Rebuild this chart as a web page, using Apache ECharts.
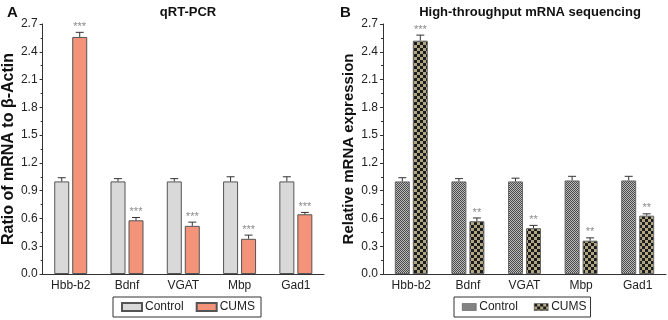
<!DOCTYPE html>
<html>
<head>
<meta charset="utf-8">
<script src="https://cdn.jsdelivr.net/npm/echarts@6/dist/echarts.min.js"></script>
<style>
  html, body { margin: 0; padding: 0; background: #fff; }
  #chart { width: 668px; height: 320px; }
</style>
</head>
<body>
<div id="chart"></div>
<script>
const categories = ['Hbb-b2', 'Bdnf', 'VGAT', 'Mbp', 'Gad1'];
const yTicks = [0, 0.3, 0.6, 0.9, 1.2, 1.5, 1.8, 2.1, 2.4, 2.7];

// qRT-PCR (panel A)
const qpcrControl = [1.00, 1.00, 1.00, 1.00, 1.00];
const qpcrControlErr = [0.04, 0.03, 0.03, 0.05, 0.05];
const qpcrCums = [2.56, 0.58, 0.52, 0.38, 0.645];
const qpcrCumsErr = [0.05, 0.03, 0.04, 0.04, 0.02];
const qpcrSig = ['***', '***', '***', '***', '***'];

// mRNA sequencing (panel B)
const seqControl = [1.00, 1.00, 1.00, 1.01, 1.01];
const seqControlErr = [0.04, 0.03, 0.035, 0.045, 0.045];
const seqCums = [2.52, 0.57, 0.495, 0.36, 0.63];
const seqCumsErr = [0.06, 0.035, 0.03, 0.03, 0.02];
const seqSig = ['***', '**', '**', '**', '**'];

const BAR_W = 15;
const BAR_GAP = 3;

function checker(size, a, b) {
  const c = document.createElement('canvas');
  c.width = size * 2;
  c.height = size * 2;
  const ctx = c.getContext('2d');
  ctx.fillStyle = a;
  ctx.fillRect(0, 0, size * 2, size * 2);
  ctx.fillStyle = b;
  ctx.fillRect(0, 0, size, size);
  ctx.fillRect(size, size, size, size);
  return { image: c, repeat: 'repeat' };
}

const controlPattern = checker(1, '#bdbdbd', '#474747');
const cumsPattern = checker(3, '#b2a785', '#1c1c1c');

// error bar items: [category, value, err, side, label]
function errItems(vals, errs, side, sig) {
  return vals.map((v, i) => [i, v, errs[i], side, sig ? sig[i] : '']);
}

function renderErr(params, api) {
  const cat = api.value(0);
  const v = api.value(1);
  const e = api.value(2);
  const side = api.value(3);
  const label = api.value(4);
  const cx = api.coord([cat, 0])[0] + side * (BAR_W + BAR_GAP) / 2;
  const yTop = api.coord([cat, v])[1];
  const yCap = api.coord([cat, v + e])[1];
  const children = [
    { type: 'line', shape: { x1: cx, y1: yTop, x2: cx, y2: yCap }, style: { stroke: '#333', lineWidth: 1 } },
    { type: 'line', shape: { x1: cx - 4, y1: yCap, x2: cx + 4, y2: yCap }, style: { stroke: '#333', lineWidth: 1 } }
  ];
  if (label) {
    children.push({
      type: 'text',
      style: {
        text: label, x: cx, y: yCap, align: 'center', verticalAlign: 'bottom',
        fill: '#8a8a8a', font: '11px "Liberation Sans", Arial, sans-serif'
      }
    });
  }
  return { type: 'group', children: children };
}

const font = '"Liberation Sans", Arial, sans-serif';

function yAxis(idx, name, gap, size) {
  return {
    gridIndex: idx, type: 'value', min: 0, max: 2.7, interval: 0.3,
    name: name, nameLocation: 'middle', nameGap: gap,
    nameTextStyle: { fontFamily: font, fontWeight: 'bold', fontSize: size, color: '#111' },
    axisLine: { show: true, lineStyle: { color: '#333', width: 1 } },
    axisTick: { show: true, length: 3, lineStyle: { color: '#333' } },
    minorTick: { show: true, splitNumber: 2, length: 2, lineStyle: { color: '#333' } },
    splitLine: { show: false },
    axisLabel: {
      fontFamily: font, fontSize: 12, color: '#222', margin: 5,
      formatter: v => yTicks.includes(+v.toFixed(1)) ? v.toFixed(1) : ''
    }
  };
}

function xAxis(idx) {
  return {
    gridIndex: idx, type: 'category', data: categories,
    axisLine: { lineStyle: { color: '#333', width: 1 } },
    axisTick: { alignWithLabel: true, length: 3, lineStyle: { color: '#333' } },
    axisLabel: { fontFamily: font, fontSize: 12, color: '#222', margin: 6 }
  };
}

const chart = echarts.init(document.getElementById('chart'));

const option = {
  animation: false,
  backgroundColor: '#fff',
  title: [
    { text: 'A', left: 2, top: 0, textStyle: { fontFamily: font, fontWeight: 'bold', fontSize: 15, color: '#111' } },
    { text: 'qRT-PCR', left: 183, top: 1, textAlign: 'center', textStyle: { fontFamily: font, fontWeight: 'bold', fontSize: 13, color: '#111' } },
    { text: 'B', left: 335, top: 0, textStyle: { fontFamily: font, fontWeight: 'bold', fontSize: 15, color: '#111' } },
    { text: 'High-throughput mRNA sequencing', left: 525, top: 1, textAlign: 'center', textStyle: { fontFamily: font, fontWeight: 'bold', fontSize: 13, color: '#111' } }
  ],
  grid: [
    { left: 42, top: 24, width: 282, height: 250 },
    { left: 383, top: 24, width: 283, height: 250 }
  ],
  xAxis: [xAxis(0), xAxis(1)],
  yAxis: [yAxis(0, 'Ratio of mRNA to β-Actin', 20, 16), yAxis(1, 'Relative mRNA expression', 27, 15)],
  legend: [
    {
      left: 113, top: 297, itemWidth: 20, itemHeight: 8, itemGap: 12,
      padding: [4, 6, 4, 8], borderColor: '#333', borderWidth: 1,
      icon: 'rect', selectedMode: false,
      textStyle: { fontFamily: font, fontSize: 12, color: '#222', padding: [0, 0, 0, -2] },
      data: ['Control', 'CUMS']
    },
    {
      left: 454, top: 297, itemWidth: 14, itemHeight: 7, itemGap: 16,
      padding: [4, 4, 4, 8], borderColor: '#333', borderWidth: 1,
      icon: 'rect', selectedMode: false,
      textStyle: { fontFamily: font, fontSize: 12, color: '#222', padding: [0, 0, 0, -2] },
      data: [
        { name: 'Control', itemStyle: { color: controlPattern, borderColor: '#444', borderWidth: 0.5 } },
        { name: 'CUMS', itemStyle: { color: cumsPattern, borderColor: '#444', borderWidth: 0.5 } }
      ]
    }
  ],
  series: [
    {
      name: 'Control', type: 'bar', xAxisIndex: 0, yAxisIndex: 0, data: qpcrControl,
      barWidth: BAR_W, barGap: (BAR_GAP / BAR_W * 100) + '%',
      itemStyle: { color: '#d9d9d9', borderColor: '#555', borderWidth: 1 }
    },
    {
      name: 'CUMS', type: 'bar', xAxisIndex: 0, yAxisIndex: 0, data: qpcrCums,
      barWidth: BAR_W,
      itemStyle: { color: '#f39379', borderColor: '#555', borderWidth: 1 }
    },
    {
      type: 'custom', xAxisIndex: 0, yAxisIndex: 0, renderItem: renderErr, z: 5,
      data: errItems(qpcrControl, qpcrControlErr, -1).concat(errItems(qpcrCums, qpcrCumsErr, 1, qpcrSig))
    },
    {
      name: 'Control', type: 'bar', xAxisIndex: 1, yAxisIndex: 1, data: seqControl,
      barWidth: BAR_W, barGap: (BAR_GAP / BAR_W * 100) + '%',
      itemStyle: { color: controlPattern, borderColor: '#666', borderWidth: 1 }
    },
    {
      name: 'CUMS', type: 'bar', xAxisIndex: 1, yAxisIndex: 1, data: seqCums,
      barWidth: BAR_W,
      itemStyle: { color: cumsPattern, borderColor: '#666', borderWidth: 1 }
    },
    {
      type: 'custom', xAxisIndex: 1, yAxisIndex: 1, renderItem: renderErr, z: 5,
      data: errItems(seqControl, seqControlErr, -1).concat(errItems(seqCums, seqCumsErr, 1, seqSig))
    }
  ]
};

chart.setOption(option);
</script>
</body>
</html>
